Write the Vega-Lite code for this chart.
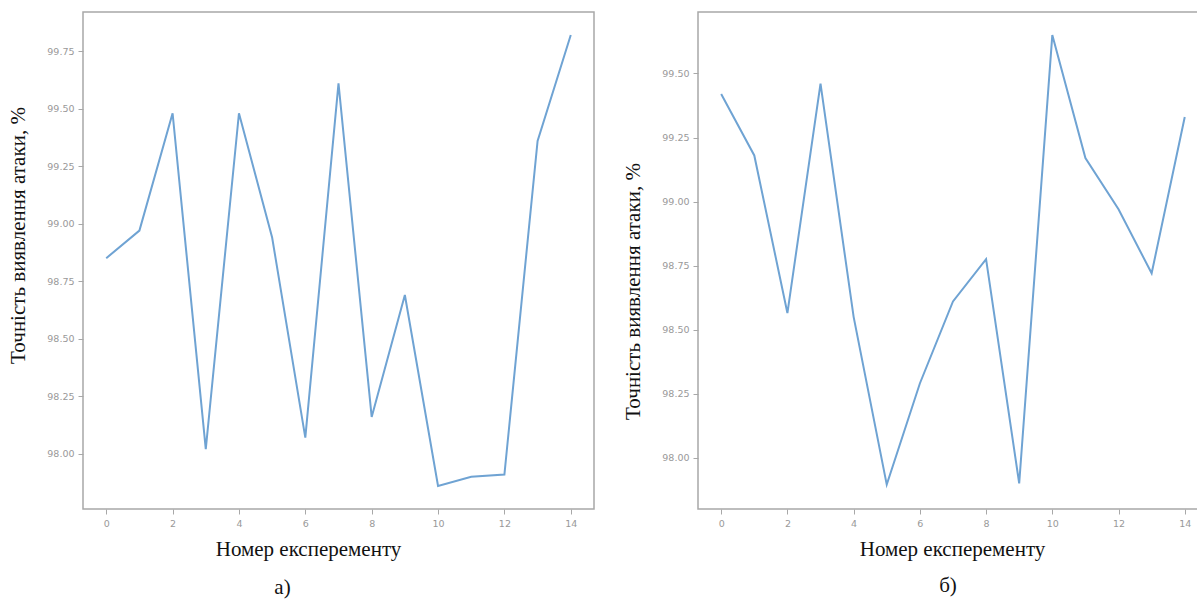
{
  "$schema": "https://vega.github.io/schema/vega-lite/v6.json",
  "background": "white",
  "padding": {"left": 7, "top": 11, "right": 0, "bottom": 0},
  "spacing": 27,
  "config": {
    "view": {"stroke": "#a8a8a8", "strokeWidth": 1.5},
    "axis": {
      "domain": false,
      "grid": false,
      "tickColor": "#a8a8a8",
      "tickSize": 5,
      "labelColor": "#999999",
      "labelFont": "DejaVu Sans",
      "labelFontSize": 9.5,
      "labelPadding": 4,
      "titleFont": "Liberation Serif",
      "titleFontSize": 21,
      "titleFontWeight": "normal",
      "titleColor": "#111"
    },
    "title": {"font": "Liberation Serif", "fontSize": 21, "fontWeight": "normal", "color": "#111"}
  },
  "datasets": {
    "a": [
      {"exp": 0, "acc": 98.85}, {"exp": 1, "acc": 98.97}, {"exp": 2, "acc": 99.48},
      {"exp": 3, "acc": 98.02}, {"exp": 4, "acc": 99.48}, {"exp": 5, "acc": 98.94},
      {"exp": 6, "acc": 98.07}, {"exp": 7, "acc": 99.61}, {"exp": 8, "acc": 98.16},
      {"exp": 9, "acc": 98.69}, {"exp": 10, "acc": 97.86}, {"exp": 11, "acc": 97.9},
      {"exp": 12, "acc": 97.91}, {"exp": 13, "acc": 99.36}, {"exp": 14, "acc": 99.82}
    ],
    "b": [
      {"exp": 0, "acc": 99.42}, {"exp": 1, "acc": 99.18}, {"exp": 2, "acc": 98.565},
      {"exp": 3, "acc": 99.46}, {"exp": 4, "acc": 98.55}, {"exp": 5, "acc": 97.895},
      {"exp": 6, "acc": 98.29}, {"exp": 7, "acc": 98.61}, {"exp": 8, "acc": 98.775},
      {"exp": 9, "acc": 97.9}, {"exp": 10, "acc": 99.65}, {"exp": 11, "acc": 99.17},
      {"exp": 12, "acc": 98.97}, {"exp": 13, "acc": 98.72}, {"exp": 14, "acc": 99.33}
    ]
  },
  "hconcat": [
    {
      "width": 511,
      "height": 497,
      "title": {"text": "а)", "orient": "bottom", "anchor": "middle", "dx": -56, "offset": 17},
      "data": {"name": "a"},
      "mark": {"type": "line", "color": "#6fa3d3", "strokeWidth": 2},
      "encoding": {
        "x": {
          "field": "exp", "type": "quantitative",
          "scale": {"domain": [-0.7, 14.7], "nice": false, "zero": false},
          "axis": {"values": [0, 2, 4, 6, 8, 10, 12, 14], "title": "Номер експеременту", "titlePadding": 11, "titleX": 225}
        },
        "y": {
          "field": "acc", "type": "quantitative",
          "scale": {"domain": [97.76, 99.92], "nice": false, "zero": false},
          "axis": {"values": [98.0, 98.25, 98.5, 98.75, 99.0, 99.25, 99.5, 99.75], "format": ".2f", "title": "Точність виявлення атаки, %", "titlePadding": 18, "titleY": 223}
        }
      }
    },
    {
      "width": 500,
      "height": 497,
      "title": {"text": "б)", "orient": "bottom", "anchor": "middle", "dx": 0, "offset": 15},
      "data": {"name": "b"},
      "mark": {"type": "line", "color": "#6fa3d3", "strokeWidth": 2},
      "encoding": {
        "x": {
          "field": "exp", "type": "quantitative",
          "scale": {"domain": [-0.7, 14.4], "nice": false, "zero": false},
          "axis": {"values": [0, 2, 4, 6, 8, 10, 12, 14], "title": "Номер експеременту", "titlePadding": 11, "titleX": 254}
        },
        "y": {
          "field": "acc", "type": "quantitative",
          "scale": {"domain": [97.8, 99.74], "nice": false, "zero": false},
          "axis": {"values": [98.0, 98.25, 98.5, 98.75, 99.0, 99.25, 99.5], "format": ".2f", "title": "Точність виявлення атаки, %", "titlePadding": 18, "titleY": 279}
        }
      }
    }
  ]
}
